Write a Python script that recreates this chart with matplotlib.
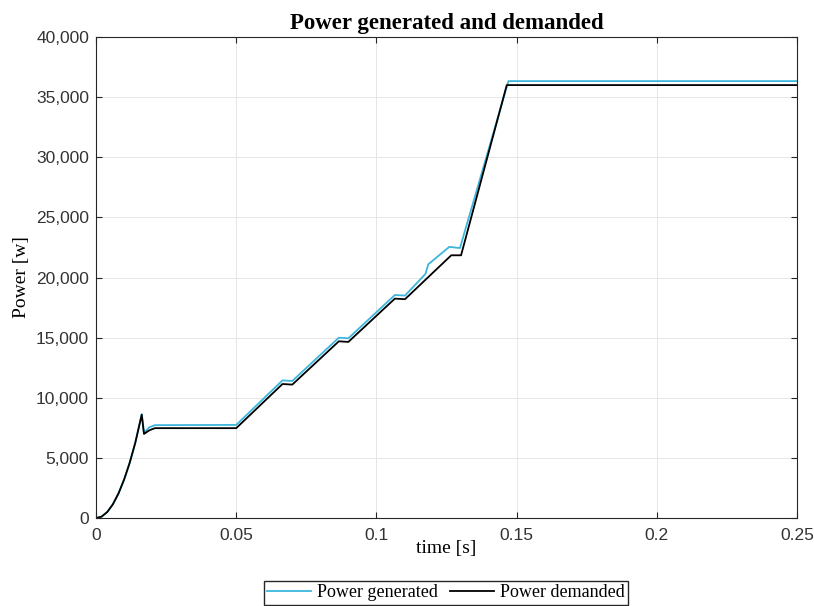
import matplotlib.pyplot as plt
from matplotlib.ticker import FuncFormatter

# time [s] and power [W]
t_demanded = [0, 0.002, 0.004, 0.006, 0.008, 0.010, 0.012, 0.014, 0.0163,
              0.0171, 0.019, 0.021, 0.050, 0.0665, 0.0700, 0.0866, 0.0900,
              0.1066, 0.1102, 0.1267, 0.1302, 0.1465, 0.25]
p_demanded = [0, 130, 510, 1150, 2050, 3200, 4600, 6270, 8600,
              7000, 7300, 7480, 7480, 11150, 11100, 14700, 14650,
              18250, 18200, 21850, 21850, 36000, 36000]

t_generated = [0, 0.002, 0.004, 0.006, 0.008, 0.010, 0.012, 0.014, 0.0163,
               0.0171, 0.019, 0.021, 0.050, 0.0665, 0.0700, 0.0866, 0.0900,
               0.1066, 0.1102, 0.1175, 0.1185, 0.1260, 0.1298, 0.1471, 0.25]
p_generated = [0, 130, 510, 1150, 2050, 3200, 4600, 6270, 8650,
               7100, 7550, 7730, 7750, 11450, 11400, 15000, 14950,
               18550, 18500, 20300, 21100, 22550, 22450, 36330, 36330]

x_ticks = [0, 0.05, 0.1, 0.15, 0.2, 0.25]
x_tick_labels = ["0", "0.05", "0.1", "0.15", "0.2", "0.25"]
y_ticks = [0, 5000, 10000, 15000, 20000, 25000, 30000, 35000, 40000]

serif = ["Liberation Serif", "DejaVu Serif"]
sans = ["Liberation Sans", "DejaVu Sans"]
grey = "#262626"

fig = plt.figure(figsize=(8.14, 6.06), dpi=100)
ax = fig.add_axes([0.118, 0.145, 0.861, 0.794])

ax.plot(t_generated, p_generated, color="#3db6dc", lw=1.3, label="Power generated")
ax.plot(t_demanded, p_demanded, color="black", lw=1.3, label="Power demanded")

ax.set_xlim(0, 0.25)
ax.set_ylim(0, 40000)
ax.set_xticks(x_ticks)
ax.set_xticklabels(x_tick_labels)
ax.set_yticks(y_ticks)
ax.yaxis.set_major_formatter(FuncFormatter(lambda v, pos: f"{int(v):,}"))

ax.grid(True, color="#e6e6e6", lw=0.7)
ax.set_axisbelow(True)
ax.tick_params(direction="in", length=4, colors=grey, labelsize=12.5,
               top=True, right=True, labelcolor="#333333")
ax.tick_params(axis="x", pad=7)
ax.tick_params(axis="y", pad=5)
for lab in ax.get_xticklabels() + ax.get_yticklabels():
    lab.set_family(sans)
for s in ax.spines.values():
    s.set_color(grey)
    s.set_linewidth(0.8)

ax.set_title("Power generated and demanded", family=serif, fontsize=16.5,
             fontweight="bold", pad=6)
ax.set_xlabel("time [s]", family=serif, fontsize=14, labelpad=-2)
ax.set_ylabel("Power [w]", family=serif, fontsize=14, labelpad=4)

fig.legend(loc="center", bbox_to_anchor=(0.548, 0.0215), ncol=2,
           prop={"family": serif, "size": 13}, frameon=True, fancybox=False,
           edgecolor=grey, framealpha=1, borderpad=0.2, handlelength=2.4,
           columnspacing=0.7, handletextpad=0.35)

fig.savefig("out.png", dpi=100)
